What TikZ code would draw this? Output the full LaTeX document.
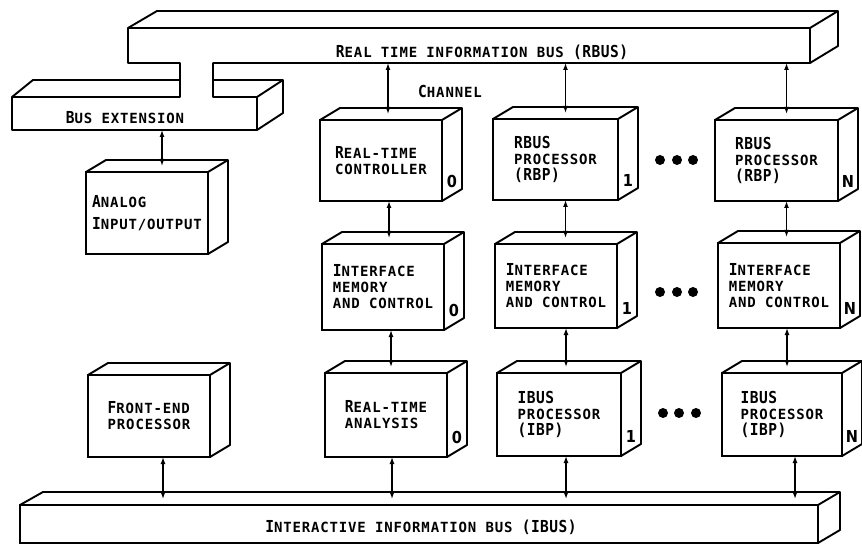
\documentclass[tikz,border=0pt]{standalone}
\usepackage{fontspec}
\newfontfamily\lett[LetterSpace=6]{DejaVu Sans Mono}
\newfontfamily\lettB[LetterSpace=3,FakeStretch=0.88]{DejaVu Sans Mono}
\newfontfamily\numf[FakeStretch=0.88]{DejaVu Sans}
\usetikzlibrary{arrows.meta,calc}
\newcommand\Bg[1]{{\lettB\bfseries\fontsize{16.5}{16}\selectfont #1}}
\newcommand\cube[6]{%
  \node[box, minimum width=#4pt, minimum height=#5pt] (#1) at (#2,#3) {#6};
  \draw[edge] (#1.north west) -- ++(20,-12) -- ($(#1.north east)+(20,-12)$) -- ($(#1.south east)+(20,-12)$) -- (#1.south east)
    (#1.north east) -- ++(20,-12);}
\newcommand\connd[4]{%
  \coordinate (#4t) at ($(#2.north)+(#3,-6)$);
  \coordinate (#4b) at (#4t |- #1.south);
  \draw[arr] (#4b) -- (#4t);}
\newcommand\connu[4]{%
  \coordinate (#4b) at ($(#1.south)+(#3,0)$);
  \coordinate (#4t) at ($(#4b |- #2.north)+(0,-6)$);
  \draw[arr] (#4b) -- (#4t);}
\begin{document}
\begin{tikzpicture}[x=1pt,y=-1pt,
  font=\lett\bfseries\fontsize{14}{16}\selectfont,
  edge/.style={line width=1.9pt, line join=round},
  box/.style={draw, line width=1.9pt, rectangle, outer sep=0pt, inner sep=0pt, align=left},
  arr/.style={line width=1.3pt, {Latex[length=7pt,width=5pt]}-{Latex[length=7pt,width=5pt]}},
  dot/.style={circle, fill, inner sep=0pt, minimum size=10pt},
  num/.style={font=\numf\bfseries\fontsize{16.5}{16}\selectfont, inner sep=0pt},
  lbl/.style={inner sep=0pt}]
\useasboundingbox (0,0) rectangle (862,545);

% RBUS with stem and bus extension
\draw[edge] (180,80) -- (33,80) -- (12,97) -- (12,130) -- (257,130) -- (283,113) -- (283,80) -- (213,80);
\draw[edge] (12,97) -- (180,97) -- (180,63) -- (128,63) -- (128,28) -- (157,11) -- (838,11) -- (838,46) -- (810,63) -- (213,63) -- (213,97) -- (257,97) -- (283,80);
\draw[edge] (128,28) -- (810,28) -- (838,11) (810,28) -- (810,63) (257,97) -- (257,130);
\node[minimum width=682pt, minimum height=35pt, inner sep=0pt, outer sep=0pt] (rbus) at (469,45.5) {};
\node[minimum width=245pt, minimum height=33pt, inner sep=0pt, outer sep=0pt] (busext) at (134.5,113.5) {};
\node[lbl] (rbuslbl) at (482,52) {\Bg{R}EAL TIME INFORMATION BUS \Bg{(RBUS)}};
\node[lbl] (busextlbl) at (125,118) {\Bg{B}US EXTENSION};
\node[lbl] (chan) at (450,91) {\Bg{C}HANNEL};

% IBUS
\node[box, minimum width=798pt, minimum height=38pt] (ibus) at (419,524) {};
\draw[edge] (ibus.north west) -- ++(23,-13) -- ($(ibus.north east)+(22,-13)$) -- ($(ibus.south east)+(22,-13)$) -- (ibus.south east)
  (ibus.north east) -- ++(22,-13);
\node[lbl] (ibuslbl) at (421,527) {\Bg{I}NTERACTIVE INFORMATION BUS \Bg{(IBUS)}};

% boxes
\cube{analog}{147}{213}{122}{82}{\Bg{A}NALOG\\[6pt]\Bg{I}NPUT/OUTPUT}
\cube{fep}{149}{416}{122}{82}{\Bg{F}RONT-END\\PROCESSOR}
\cube{rtc}{381}{160.5}{122}{81}{\Bg{R}EAL-TIME\\CONTROLLER}
\cube{rbp1}{555.5}{159.5}{125}{81}{\Bg{RBUS}\\PROCESSOR\\\Bg{(RBP)}}
\cube{rbpn}{776.5}{160.5}{123}{81}{\Bg{RBUS}\\PROCESSOR\\\Bg{(RBP)}}
\cube{im0}{383}{287}{122}{86}{\Bg{I}NTERFACE\\MEMORY\\AND CONTROL}
\cube{im1}{556}{286}{122}{84}{\Bg{I}NTERFACE\\MEMORY\\AND CONTROL}
\cube{imn}{779}{285.5}{122}{85}{\Bg{I}NTERFACE\\MEMORY\\AND CONTROL}
\cube{rta}{386}{415}{122}{84}{\Bg{R}EAL-TIME\\ANALYSIS}
\cube{ibp1}{559}{414.5}{124}{83}{\Bg{IBUS}\\PROCESSOR\\\Bg{(IBP)}}
\cube{ibpn}{782}{414.5}{120}{83}{\Bg{IBUS}\\PROCESSOR\\\Bg{(IBP)}}

% channel numbers
\node[num] (n0a) at ($(rtc.south east)+(10,-20)$) {0};
\node[num] (n0b) at ($(im0.south east)+(10,-20)$) {0};
\node[num] (n0c) at ($(rta.south east)+(10,-20)$) {0};
\node[num] (n1a) at ($(rbp1.south east)+(10,-20)$) {1};
\node[num] (n1b) at ($(im1.south east)+(10,-20)$) {1};
\node[num] (n1c) at ($(ibp1.south east)+(10,-20)$) {1};
\node[num] (nna) at ($(rbpn.south east)+(10,-20)$) {N};
\node[num] (nnb) at ($(imn.south east)+(10,-20)$) {N};
\node[num] (nnc) at ($(ibpn.south east)+(10,-20)$) {N};

% dots
\foreach \i/\x in {1/660,2/677,3/693}{
  \node[dot] (da\i) at (\x,160) {};
  \node[dot] (db\i) at (\x,292) {};
}
\foreach \i/\x in {1/663,2/679,3/696}{
  \node[dot] (dc\i) at (\x,413) {};
}

% connectors
\connd{busext}{analog}{15}{a}
\connd{rbus}{rtc}{7}{b}
\connd{rbus}{rbp1}{10}{c}
\connd{rbus}{rbpn}{10}{d}
\connu{rtc}{im0}{8}{e}
\connu{rbp1}{im1}{10}{f}
\connu{rbpn}{imn}{10}{g}
\connu{im0}{rta}{8}{h}
\connu{im1}{ibp1}{10}{i}
\connu{imn}{ibpn}{8}{j}
\connu{fep}{ibus}{14}{k}
\connu{rta}{ibus}{6}{l}
\connu{ibp1}{ibus}{7}{m}
\connu{ibpn}{ibus}{13}{n}
\end{tikzpicture}
\end{document}
